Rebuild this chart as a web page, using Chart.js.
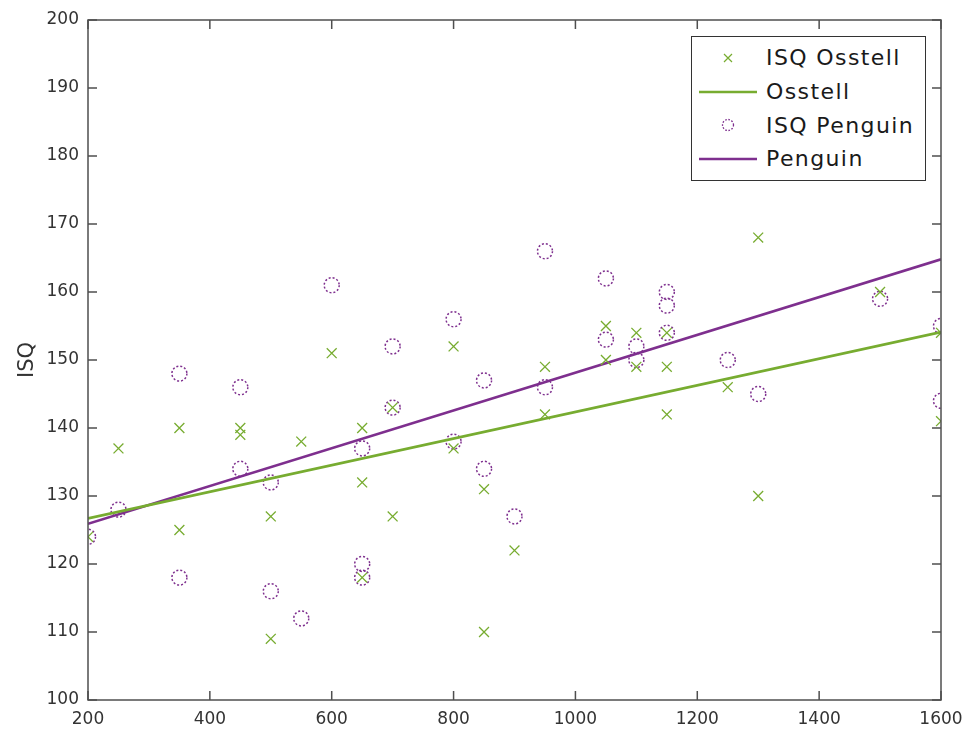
<!DOCTYPE html>
<html lang="en">
<head>
<meta charset="UTF-8">
<title>ISQ</title>
<script src="https://cdn.jsdelivr.net/npm/chart.js"></script>
<style>
  body { margin: 0; background: #fff; }
  #wrap { position: relative; width: 968px; height: 734px; }
  #legend {
    position: absolute; left: 691px; top: 36px; width: 233px; height: 139px;
    border: 1px solid #333; background: #fff; box-sizing: content-box;
    font-family: "DejaVu Sans", sans-serif; font-size: 22px; letter-spacing: 1.4px; color: #1a1a1a;
    padding-top: 4px;
  }
  #legend .row { height: 33.7px; display: flex; align-items: center; }
  #legend svg { width: 60px; height: 20px; margin-left: 6px; margin-right: 8px; flex: none; }
</style>
</head>
<body>
<div id="wrap">
  <canvas id="isqChart" width="968" height="734"></canvas>
  <div id="legend"></div>
</div>
<script>
// data
const osstellX = [200, 250, 350, 350, 450, 450, 500, 500, 550, 600, 650, 650, 650, 700, 700, 800, 800, 850, 850, 900,
  950, 950, 1050, 1050, 1100, 1100, 1150, 1150, 1150, 1250, 1300, 1300, 1500, 1600, 1600];
const osstellY = [124, 137, 140, 125, 140, 139, 127, 109, 138, 151, 140, 132, 118, 143, 127, 152, 137, 131, 110, 122,
  149, 142, 155, 150, 154, 149, 154, 149, 142, 146, 168, 130, 160, 154, 141];

const penguinX = [200, 250, 350, 350, 450, 450, 500, 500, 550, 600, 650, 650, 650, 700, 700, 800, 800, 850, 850, 900,
  950, 950, 1050, 1050, 1100, 1100, 1150, 1150, 1150, 1250, 1300, 1500, 1600, 1600];
const penguinY = [124, 128, 148, 118, 146, 134, 132, 116, 112, 161, 137, 120, 118, 152, 143, 156, 138, 147, 134, 127,
  166, 146, 162, 153, 152, 150, 160, 158, 154, 150, 145, 159, 155, 144];

const fitX = [200, 1600];
const osstellFit = [126.7, 154.1];
const penguinFit = [125.9, 164.8];

const legendLabels = ['ISQ Osstell', 'Osstell', 'ISQ Penguin', 'Penguin'];
const xTicks = [200, 400, 600, 800, 1000, 1200, 1400, 1600];
const yTicks = [100, 110, 120, 130, 140, 150, 160, 170, 180, 190, 200];

const GREEN = '#77AC30';
const PURPLE = '#7E2F8E';

function pts(xs, ys) { return xs.map((x, i) => ({ x: x, y: ys[i] })); }

// dotted circles for the penguin markers
const dotted = {
  id: 'dotted',
  beforeDatasetDraw(chart, args) {
    if (args.index === 2) { chart.ctx.save(); chart.ctx.setLineDash([2, 2]); }
  },
  afterDatasetDraw(chart, args) {
    if (args.index === 2) chart.ctx.restore();
  }
};

// box round the plot with inward ticks on all sides
const axesBox = {
  id: 'axesBox',
  afterDraw(chart) {
    const { ctx, chartArea: a, scales: { x, y } } = chart;
    ctx.save();
    ctx.strokeStyle = '#4f4f4f';
    ctx.lineWidth = 1.5;
    ctx.strokeRect(a.left, a.top, a.right - a.left, a.bottom - a.top);
    ctx.beginPath();
    xTicks.forEach(v => {
      const px = x.getPixelForValue(v);
      ctx.moveTo(px, a.bottom); ctx.lineTo(px, a.bottom - 9);
      ctx.moveTo(px, a.top); ctx.lineTo(px, a.top + 9);
    });
    yTicks.forEach(v => {
      const py = y.getPixelForValue(v);
      ctx.moveTo(a.left, py); ctx.lineTo(a.left + 9, py);
      ctx.moveTo(a.right, py); ctx.lineTo(a.right - 9, py);
    });
    ctx.stroke();
    ctx.restore();
  }
};

const tickFont = { family: '"DejaVu Sans", sans-serif', size: 17 };

const chart = new Chart(document.getElementById('isqChart'), {
  type: 'scatter',
  data: {
    datasets: [
      {
        label: legendLabels[0], data: pts(osstellX, osstellY),
        pointStyle: 'crossRot', pointRadius: 7, borderColor: GREEN, borderWidth: 1.3, showLine: false
      },
      {
        type: 'line', label: legendLabels[1], data: pts(fitX, osstellFit),
        borderColor: GREEN, borderWidth: 2.6, pointRadius: 0, fill: false
      },
      {
        label: legendLabels[2], data: pts(penguinX, penguinY),
        pointStyle: 'circle', pointRadius: 7.5, borderColor: PURPLE, backgroundColor: 'rgba(0,0,0,0)',
        borderWidth: 1.5, showLine: false
      },
      {
        type: 'line', label: legendLabels[3], data: pts(fitX, penguinFit),
        borderColor: PURPLE, borderWidth: 2.6, pointRadius: 0, fill: false
      }
    ]
  },
  options: {
    responsive: false,
    animation: false,
    layout: { padding: { top: 20, right: 27, left: 0, bottom: 0 } },
    plugins: { legend: { display: false }, tooltip: { enabled: false } },
    scales: {
      x: {
        type: 'linear', min: 200, max: 1600,
        afterBuildTicks: s => { s.ticks = xTicks.map(v => ({ value: v })); },
        afterFit: s => { s.height = 34; s.paddingLeft = 0; s.paddingRight = 0; },
        grid: { display: false, drawTicks: false },
        border: { display: false },
        ticks: { font: tickFont, color: '#333', padding: 9, maxRotation: 0, callback: v => String(v) }
      },
      y: {
        type: 'linear', min: 100, max: 200,
        afterBuildTicks: s => { s.ticks = yTicks.map(v => ({ value: v })); },
        afterFit: s => { s.width = 88; s.paddingTop = 0; s.paddingBottom = 0; },
        grid: { display: false, drawTicks: false },
        border: { display: false },
        ticks: { font: tickFont, color: '#333', padding: 9, callback: v => String(v) },
        title: {
          display: true, text: 'ISQ', color: '#333',
          font: { family: '"DejaVu Sans", sans-serif', size: 21 },
          padding: { top: 15, bottom: 0 }
        }
      }
    }
  },
  plugins: [dotted, axesBox]
});

// legend drawn from the dataset labels
const icons = [
  `<svg viewBox="0 0 60 20"><path d="M26 6 L34 14 M34 6 L26 14" stroke="${GREEN}" stroke-width="1.2"/></svg>`,
  `<svg viewBox="0 0 60 20"><line x1="1" y1="10" x2="59" y2="10" stroke="${GREEN}" stroke-width="2.6"/></svg>`,
  `<svg viewBox="0 0 60 20"><circle cx="30" cy="10" r="5.5" fill="none" stroke="${PURPLE}" stroke-width="1.3" stroke-dasharray="1.6 1.6"/></svg>`,
  `<svg viewBox="0 0 60 20"><line x1="1" y1="10" x2="59" y2="10" stroke="${PURPLE}" stroke-width="2.6"/></svg>`
];
document.getElementById('legend').innerHTML = chart.data.datasets
  .map((d, i) => `<div class="row">${icons[i]}<span>${d.label}</span></div>`).join('');
</script>
</body>
</html>
